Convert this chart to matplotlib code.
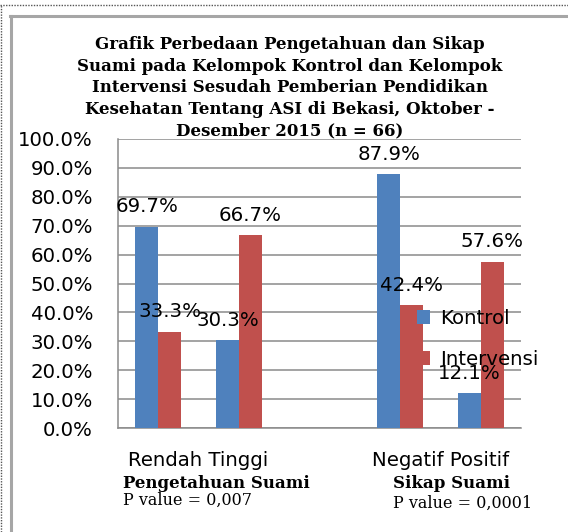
import numpy as np
import matplotlib
matplotlib.use("Agg")
import matplotlib.pyplot as plt
from matplotlib.lines import Line2D
from matplotlib.ticker import FuncFormatter

# ---- data ----
categories = ["Rendah", "Tinggi", "Negatif", "Positif"]
group_ticklabels = ["Rendah Tinggi", "Negatif Positif"]
group_names = ["Pengetahuan Suami", "Sikap Suami"]
p_values = ["P value = 0,007", "P value = 0,0001"]
series_names = ["Kontrol", "Intervensi"]
kontrol = [69.7, 30.3, 87.9, 12.1]
intervensi = [33.3, 66.7, 42.4, 57.6]
title_lines = [
    "Grafik Perbedaan Pengetahuan dan Sikap",
    "Suami pada Kelompok Kontrol dan Kelompok",
    "Intervensi Sesudah Pemberian Pendidikan",
    "Kesehatan Tentang ASI di Bekasi, Oktober -",
    "Desember 2015 (n = 66)",
]

# ---- style ----
plt.rcParams["font.family"] = ["DejaVu Sans"]
BLUE = "#4F81BD"
RED = "#C0504D"
GRID = "#8a8a8a"
W, H = 568, 532
FS = 14.2

fig = plt.figure(figsize=(W / 100, H / 100), dpi=100)
ax = fig.add_axes([118 / W, 1 - 428 / H, 403 / W, 289 / H])

# positions: two groups with an empty slot between them
x = np.array([0, 1, 3, 4], dtype=float)
bw = 0.285
b1 = ax.bar(x - bw / 2, kontrol, bw, color=BLUE, label=series_names[0], zorder=3)
b2 = ax.bar(x + bw / 2, intervensi, bw, color=RED, label=series_names[1], zorder=3)

for cont, vals in ((b1, kontrol), (b2, intervensi)):
    ax.bar_label(cont, labels=[f"{v:.1f}%" for v in vals], padding=7.5,
                 fontsize=FS, color="black", zorder=6)

ax.set_xlim(-0.5, 4.5)
ax.set_ylim(0, 100)
ax.set_yticks(np.arange(0, 101, 10))
ax.yaxis.set_major_formatter(FuncFormatter(lambda v, p: f"{v:.1f}%"))
ax.tick_params(axis="y", length=0, pad=18, labelsize=FS)
ax.set_xticks([0.5, 3.5])
ax.set_xticklabels(group_ticklabels)
ax.tick_params(axis="x", length=0, pad=16.5, labelsize=FS)

ax.grid(axis="y", color=GRID, linewidth=1.1, zorder=0)
ax.set_axisbelow(True)
for s in ("top", "right"):
    ax.spines[s].set_visible(False)
for s in ("left", "bottom"):
    ax.spines[s].set_color(GRID)
    ax.spines[s].set_linewidth(1.1)

leg = ax.legend(loc="upper left", bbox_to_anchor=(417 / W, 1 - 309 / H),
                bbox_transform=fig.transFigure, frameon=False,
                handlelength=0.68, handleheight=0.68, handletextpad=0.5,
                labelspacing=1.1, borderpad=0, borderaxespad=0, fontsize=FS)
leg.set_zorder(7)

# title
fig.text(290 / W, 1 - 36 / H, "\n".join(title_lines), ha="center", va="top",
         fontsize=12, fontweight="bold", family="DejaVu Serif", linespacing=1.36)

# group names and p-values under the axis
name_x = [123, 393]
p_y = [500, 503]
for gx, gname, pv, py in zip(name_x, group_names, p_values, p_y):
    fig.text(gx / W, 1 - 483 / H, gname, ha="left", va="center",
             fontsize=12, fontweight="bold", family="DejaVu Serif")
    fig.text(gx / W, 1 - py / H, pv, ha="left", va="center",
             fontsize=11.5, family="DejaVu Serif")

# outer frames
fig.add_artist(Line2D([0, 1], [1 - 5 / H, 1 - 5 / H], transform=fig.transFigure,
                      color="#555555", linewidth=1, linestyle=(0, (1, 1))))
fig.add_artist(Line2D([1 / W, 1 / W], [0, 1 - 5 / H], transform=fig.transFigure,
                      color="#555555", linewidth=1, linestyle=(0, (1, 1))))
fig.add_artist(Line2D([10 / W, 1], [1 - 16 / H, 1 - 16 / H], transform=fig.transFigure,
                      color="#a6a6a6", linewidth=2.2))
fig.add_artist(Line2D([11 / W, 11 / W], [0, 1 - 16 / H], transform=fig.transFigure,
                      color="#a6a6a6", linewidth=2.2))

fig.savefig("out.png", dpi=100)
